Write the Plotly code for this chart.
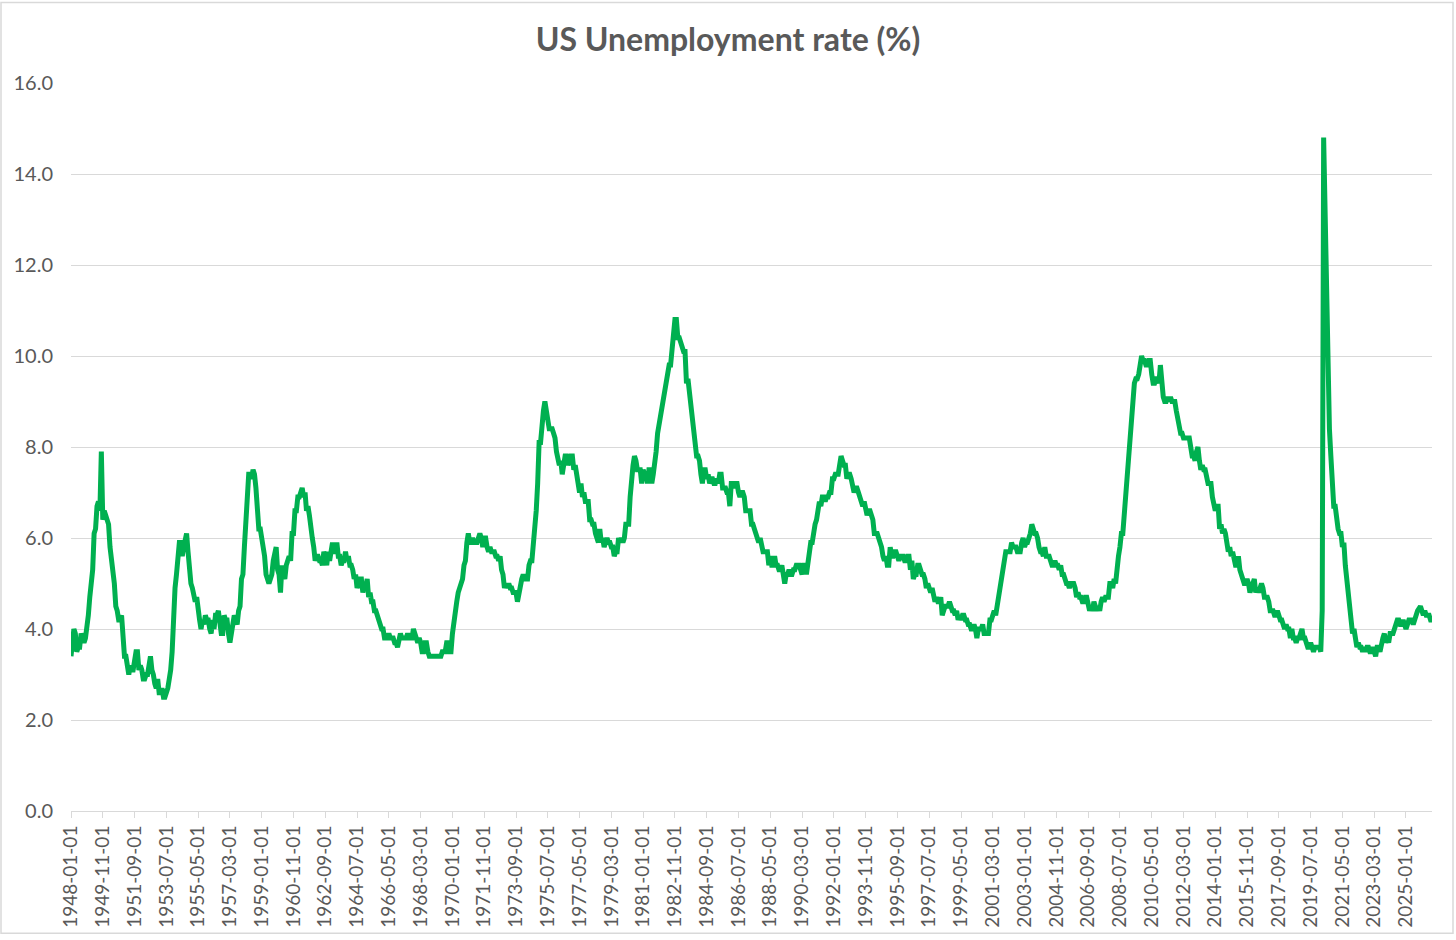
import pandas as pd
import plotly.graph_objects as go

# Monthly category labels (1948-01 .. 2026-07)
dates = list(pd.date_range("1948-01-01", "2026-07-01", freq="MS").strftime("%Y-%m-%d"))

# US unemployment rate (%), monthly
u1940s = [3.4,3.8,4.0,3.9,3.5,3.6,3.6,3.9,3.8,3.7,3.8,4.0,
          4.3,4.7,5.0,5.3,6.1,6.2,6.7,6.8,6.6,7.9,6.4,6.6]
u1950s = [6.5,6.4,6.3,5.8,5.5,5.4,5.0,4.5,4.4,4.2,4.2,4.3,
          3.7,3.4,3.4,3.1,3.0,3.2,3.1,3.1,3.3,3.5,3.5,3.1,
          3.2,3.1,2.9,2.9,3.0,3.0,3.2,3.4,3.1,3.0,2.8,2.7,
          2.9,2.6,2.6,2.7,2.5,2.5,2.6,2.7,2.9,3.1,3.5,4.5,
          4.9,5.2,5.7,5.9,5.9,5.6,5.8,6.0,6.1,5.7,5.3,5.0,
          4.9,4.7,4.6,4.7,4.3,4.2,4.0,4.2,4.1,4.3,4.2,4.2,
          4.0,3.9,4.2,4.0,4.3,4.3,4.4,4.1,3.9,3.9,4.3,4.2,
          4.2,3.9,3.7,3.9,4.1,4.3,4.2,4.1,4.4,4.5,5.1,5.2,
          5.8,6.4,6.7,7.4,7.4,7.3,7.5,7.4,7.1,6.7,6.2,6.2,
          6.0,5.9,5.6,5.2,5.1,5.0,5.1,5.2,5.5,5.7,5.8,5.3]
u1960s = [5.2,4.8,5.4,5.2,5.1,5.4,5.5,5.6,5.5,6.1,6.1,6.6,
          6.6,6.9,6.9,7.0,7.1,6.9,7.0,6.6,6.7,6.5,6.1,6.0,
          5.8,5.5,5.6,5.6,5.5,5.5,5.4,5.7,5.6,5.4,5.7,5.5,
          5.7,5.9,5.7,5.7,5.9,5.6,5.6,5.4,5.5,5.5,5.7,5.5,
          5.6,5.4,5.4,5.3,5.1,5.2,4.9,5.0,5.1,5.1,4.8,5.0,
          4.9,5.1,4.7,4.8,4.6,4.6,4.4,4.4,4.3,4.2,4.1,4.0,
          4.0,3.8,3.8,3.8,3.9,3.8,3.8,3.8,3.7,3.7,3.6,3.8,
          3.9,3.8,3.8,3.8,3.8,3.9,3.8,3.8,3.8,4.0,3.9,3.8,
          3.7,3.8,3.7,3.5,3.5,3.7,3.7,3.5,3.4,3.4,3.4,3.4,
          3.4,3.4,3.4,3.4,3.4,3.5,3.5,3.5,3.7,3.7,3.5,3.5]
u1970s = [3.9,4.2,4.4,4.6,4.8,4.9,5.0,5.1,5.4,5.5,5.9,6.1,
          5.9,5.9,6.0,5.9,5.9,5.9,6.0,6.1,6.0,5.8,6.0,6.0,
          5.8,5.7,5.8,5.7,5.7,5.7,5.6,5.6,5.5,5.6,5.3,5.2,
          4.9,5.0,4.9,5.0,4.9,4.9,4.8,4.8,4.8,4.6,4.8,4.9,
          5.1,5.2,5.1,5.1,5.1,5.4,5.5,5.5,5.9,6.0,6.6,7.2,
          8.1,8.1,8.6,8.8,9.0,8.8,8.6,8.4,8.4,8.4,8.3,8.2,
          7.9,7.7,7.6,7.7,7.4,7.6,7.8,7.8,7.6,7.7,7.8,7.8,
          7.5,7.6,7.4,7.2,7.0,7.2,6.9,7.0,6.8,6.8,6.8,6.4,
          6.4,6.3,6.3,6.1,6.0,5.9,6.2,5.9,6.0,5.8,5.9,6.0,
          5.9,5.9,5.8,5.8,5.6,5.7,5.7,6.0,5.9,6.0,5.9,6.0]
u1980s = [6.3,6.3,6.3,6.9,7.5,7.6,7.8,7.7,7.5,7.5,7.5,7.2,
          7.5,7.4,7.4,7.2,7.5,7.5,7.2,7.4,7.6,7.9,8.3,8.5,
          8.6,8.9,9.0,9.3,9.4,9.6,9.8,9.8,10.1,10.4,10.8,10.8,
          10.4,10.4,10.3,10.2,10.1,10.1,9.4,9.5,9.2,8.8,8.5,8.3,
          8.0,7.8,7.8,7.7,7.4,7.2,7.5,7.5,7.3,7.4,7.2,7.3,
          7.3,7.2,7.2,7.3,7.2,7.4,7.4,7.1,7.1,7.1,7.0,7.0,
          6.7,7.2,7.2,7.1,7.2,7.2,7.0,6.9,7.0,7.0,6.9,6.6,
          6.6,6.6,6.6,6.3,6.3,6.2,6.1,6.0,5.9,6.0,5.8,5.7,
          5.7,5.7,5.7,5.4,5.6,5.4,5.4,5.6,5.4,5.4,5.3,5.3,
          5.4,5.2,5.0,5.2,5.2,5.3,5.2,5.2,5.3,5.3,5.4,5.4]
u1990s = [5.4,5.3,5.2,5.4,5.4,5.2,5.5,5.7,5.9,5.9,6.2,6.3,
          6.4,6.6,6.8,6.7,6.9,6.9,6.8,6.9,6.9,7.0,7.0,7.3,
          7.3,7.4,7.4,7.4,7.6,7.8,7.7,7.6,7.6,7.3,7.4,7.4,
          7.3,7.1,7.0,7.1,7.1,7.0,6.9,6.8,6.7,6.8,6.6,6.5,
          6.6,6.6,6.5,6.4,6.1,6.1,6.1,6.0,5.9,5.8,5.6,5.5,
          5.6,5.4,5.4,5.8,5.6,5.6,5.7,5.7,5.6,5.5,5.6,5.6,
          5.6,5.5,5.5,5.6,5.6,5.3,5.5,5.1,5.2,5.2,5.4,5.4,
          5.3,5.2,5.2,5.1,4.9,5.0,4.9,4.8,4.9,4.7,4.6,4.7,
          4.6,4.6,4.7,4.3,4.4,4.5,4.5,4.5,4.6,4.5,4.4,4.4,
          4.3,4.4,4.2,4.3,4.2,4.3,4.3,4.2,4.2,4.1,4.1,4.0]
u2000s = [4.0,4.1,4.0,3.8,4.0,4.0,4.0,4.1,3.9,3.9,3.9,3.9,
          4.2,4.2,4.3,4.4,4.3,4.5,4.6,4.9,5.0,5.3,5.5,5.7,
          5.7,5.7,5.7,5.9,5.8,5.8,5.8,5.7,5.7,5.7,5.9,6.0,
          5.8,5.9,5.9,6.0,6.1,6.3,6.2,6.1,6.1,6.0,5.8,5.7,
          5.7,5.6,5.8,5.6,5.6,5.6,5.5,5.4,5.4,5.5,5.4,5.4,
          5.3,5.4,5.2,5.2,5.1,5.0,5.0,4.9,5.0,5.0,5.0,4.9,
          4.7,4.8,4.7,4.7,4.6,4.6,4.7,4.7,4.5,4.4,4.5,4.4,
          4.6,4.5,4.4,4.5,4.4,4.6,4.7,4.6,4.7,4.7,4.7,5.0,
          5.0,4.9,5.1,5.0,5.4,5.6,5.8,6.1,6.1,6.5,6.8,7.3,
          7.8,8.3,8.7,9.0,9.4,9.5,9.5,9.6,9.8,10.0,9.9,9.9]
u2010s = [9.8,9.8,9.9,9.9,9.6,9.4,9.4,9.5,9.5,9.4,9.8,9.3,
          9.1,9.0,9.0,9.1,9.0,9.1,9.0,9.0,9.0,8.8,8.6,8.5,
          8.3,8.3,8.2,8.2,8.2,8.2,8.2,8.0,7.8,7.8,7.7,7.9,
          8.0,7.7,7.5,7.6,7.5,7.5,7.3,7.2,7.2,7.2,6.9,6.7,
          6.6,6.7,6.7,6.2,6.3,6.1,6.2,6.1,5.9,5.7,5.8,5.6,
          5.7,5.5,5.4,5.4,5.6,5.3,5.2,5.1,5.0,5.0,5.1,5.0,
          4.8,4.9,5.0,5.1,4.8,4.9,4.8,4.9,5.0,4.9,4.7,4.7,
          4.7,4.6,4.4,4.4,4.4,4.3,4.3,4.4,4.3,4.2,4.2,4.1,
          4.0,4.1,4.0,4.0,3.8,4.0,3.8,3.8,3.7,3.8,3.8,3.9,
          4.0,3.8,3.8,3.7,3.6,3.6,3.7,3.6,3.5,3.6,3.6,3.6]
u2020s = [3.6,3.5,4.4,14.8,13.2,11.0,10.2,8.4,7.8,6.9,6.7,6.7,
          6.4,6.2,6.1,6.1,5.8,5.9,5.4,5.1,4.7,4.5,4.2,3.9,
          4.0,3.8,3.6,3.7,3.6,3.6,3.5,3.6,3.5,3.6,3.6,3.5,
          3.5,3.6,3.5,3.4,3.6,3.6,3.5,3.7,3.8,3.9,3.7,3.8,
          3.7,3.9,3.9,3.9,4.0,4.1,4.2,4.2,4.1,4.1,4.2,4.1,
          4.0,4.1,4.2,4.2,4.2,4.1,4.2,4.3,4.4,None,4.5,4.4,
          4.3,4.4,4.3,4.3,4.3,4.2,4.2]

values = u1940s + u1950s + u1960s + u1970s + u1980s + u1990s + u2000s + u2010s + u2020s

tick_labels = dates[::22]
y_ticks = [0, 2, 4, 6, 8, 10, 12, 14, 16]

GREY = "#595959"
FONT = "Lato"

fig = go.Figure()
fig.add_trace(go.Scatter(
    x=dates, y=values, mode="lines", connectgaps=True,
    line=dict(color="#00b050", width=5),
    hoverinfo="x+y",
))

fig.update_layout(
    width=1456, height=940,
    paper_bgcolor="white", plot_bgcolor="white",
    margin=dict(l=71, r=24, t=83, b=125),
    showlegend=False,
    title=dict(text="<b>US Unemployment rate (%)</b>", x=0.5, xanchor="center",
               y=1 - 40 / 940, yanchor="middle", yref="container",
               font=dict(family=FONT, size=32, color=GREY)),
    xaxis=dict(type="category", range=[0, len(dates) - 1],
               tickmode="array", tickvals=tick_labels, ticktext=tick_labels,
               tickangle=-90, tickfont=dict(family=FONT, size=19, color=GREY),
               showgrid=False, showline=True, linecolor="#d9d9d9", linewidth=1,
               ticks="outside", ticklen=6, tickcolor="#d9d9d9", zeroline=False),
    yaxis=dict(range=[0, 16], tickmode="array", tickvals=y_ticks,
               ticktext=[f"{v:.1f}" for v in y_ticks],
               tickfont=dict(family=FONT, size=20, color=GREY),
               showgrid=True, gridcolor="#d9d9d9", gridwidth=1,
               zeroline=False, showline=False, ticks="", ticklabelstandoff=17),
    shapes=[dict(type="rect", xref="paper", yref="paper",
                 x0=-70 / 1361, x1=1 + 21 / 1361, y0=-123 / 732, y1=1 + 81 / 732,
                 line=dict(color="#d9d9d9", width=1.5), fillcolor="rgba(0,0,0,0)",
                 layer="below")],
)

fig.write_html("out.html", config={"displayModeBar": False},
               post_script="document.body.style.margin='0';document.body.style.overflow='hidden';")
